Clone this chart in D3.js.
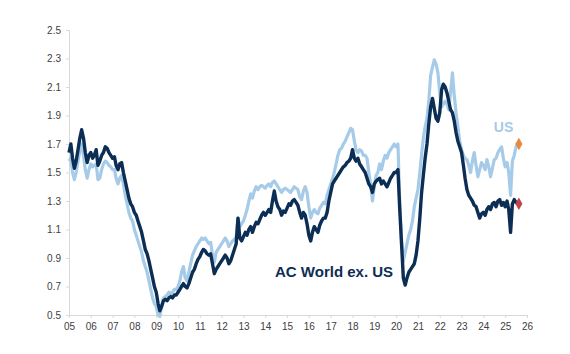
<!DOCTYPE html>
<html>
<head>
<meta charset="utf-8">
<script src="https://cdn.jsdelivr.net/npm/d3@7"></script>
<style>
  html, body { margin: 0; padding: 0; background: #ffffff; }
  svg { display: block; }
</style>
</head>
<body>
<svg id="chart" width="570" height="354"></svg>
<script>
// ---------- DATA (monthly, Jan 2005 .. Aug 2025) ----------
const startMonth = "2005-01";
const yTickValues = [0.5, 0.7, 0.9, 1.1, 1.3, 1.5, 1.7, 1.9, 2.1, 2.3, 2.5];
const xTickYears = [2005,2006,2007,2008,2009,2010,2011,2012,2013,2014,2015,2016,2017,2018,2019,2020,2021,2022,2023,2024,2025,2026];
const seriesNames = ["US", "AC World ex. US"];

const usValues = [
  1.58,1.60,1.50,1.45,1.50,1.58,1.65,1.70,1.62,1.52,1.46,1.52, // 2005
  1.56,1.54,1.55,1.56,1.45,1.46,1.52,1.56,1.58,1.57,1.55,1.54, // 2006
  1.52,1.52,1.46,1.42,1.46,1.48,1.42,1.34,1.28,1.22,1.18,1.16, // 2007
  1.10,1.06,1.02,0.98,0.94,0.88,0.84,0.80,0.74,0.68,0.62,0.58, // 2008
  0.56,0.50,0.49,0.56,0.62,0.63,0.64,0.66,0.65,0.66,0.68,0.68, // 2009
  0.70,0.74,0.80,0.84,0.76,0.74,0.80,0.86,0.92,0.95,0.98,1.00, // 2010
  1.02,1.04,1.03,1.04,1.02,1.00,1.01,0.92,0.87,0.94,0.96,0.98, // 2011
  1.00,1.02,1.04,1.02,0.98,1.00,1.02,1.03,1.05,1.18,1.12,1.14, // 2012
  1.16,1.20,1.24,1.30,1.35,1.32,1.37,1.40,1.38,1.40,1.41,1.40, // 2013
  1.39,1.41,1.42,1.40,1.43,1.44,1.42,1.40,1.38,1.36,1.38,1.39, // 2014
  1.38,1.37,1.36,1.38,1.40,1.39,1.38,1.33,1.31,1.37,1.40,1.36, // 2015
  1.26,1.18,1.22,1.24,1.22,1.21,1.25,1.27,1.29,1.28,1.34,1.38, // 2016
  1.42,1.46,1.50,1.56,1.62,1.66,1.67,1.70,1.72,1.75,1.78,1.81, // 2017
  1.80,1.72,1.66,1.64,1.66,1.65,1.62,1.62,1.60,1.50,1.42,1.30, // 2018
  1.40,1.48,1.50,1.56,1.52,1.58,1.62,1.60,1.64,1.66,1.68,1.70, // 2019
  1.68,1.70,1.30,1.02,0.88,0.94,1.00,1.06,1.10,1.16,1.26,1.32, // 2020
  1.38,1.50,1.62,1.74,1.82,1.88,2.00,2.18,2.24,2.29,2.26,2.20, // 2021
  2.06,1.96,1.98,2.00,1.98,1.94,2.06,2.20,2.04,1.92,1.82,1.72, // 2022
  1.66,1.62,1.60,1.59,1.55,1.50,1.58,1.64,1.55,1.47,1.52,1.57, // 2023
  1.55,1.52,1.59,1.54,1.47,1.53,1.59,1.60,1.64,1.66,1.68,1.60, // 2024
  1.54,1.57,1.50,1.34,1.58,1.62,1.68,1.70                      // 2025
];

const acwiValues = [
  1.64,1.70,1.60,1.53,1.58,1.66,1.74,1.80,1.74,1.64,1.57,1.62, // 2005
  1.64,1.60,1.62,1.66,1.55,1.58,1.62,1.64,1.68,1.67,1.64,1.62, // 2006
  1.60,1.61,1.55,1.52,1.56,1.57,1.50,1.44,1.38,1.32,1.28,1.26, // 2007
  1.22,1.20,1.16,1.12,1.08,1.02,0.96,0.93,0.88,0.82,0.76,0.70, // 2008
  0.66,0.58,0.53,0.56,0.60,0.61,0.60,0.62,0.63,0.62,0.64,0.64, // 2009
  0.66,0.68,0.70,0.72,0.70,0.69,0.72,0.76,0.80,0.82,0.86,0.89, // 2010
  0.91,0.94,0.96,0.95,0.93,0.92,0.93,0.86,0.79,0.82,0.84,0.86, // 2011
  0.88,0.90,0.92,0.90,0.86,0.88,0.92,0.96,1.00,1.18,1.04,1.02, // 2012
  1.05,1.08,1.06,1.10,1.12,1.08,1.12,1.15,1.14,1.17,1.20,1.22, // 2013
  1.20,1.22,1.24,1.22,1.30,1.37,1.30,1.26,1.24,1.20,1.23,1.22, // 2014
  1.25,1.28,1.27,1.30,1.31,1.29,1.27,1.22,1.18,1.22,1.20,1.14, // 2015
  1.06,1.02,1.08,1.12,1.10,1.08,1.13,1.16,1.18,1.18,1.22,1.30, // 2016
  1.36,1.42,1.44,1.46,1.48,1.50,1.52,1.54,1.55,1.57,1.58,1.60, // 2017
  1.66,1.60,1.58,1.60,1.56,1.54,1.52,1.50,1.46,1.42,1.40,1.36, // 2018
  1.42,1.44,1.45,1.46,1.42,1.44,1.42,1.40,1.43,1.46,1.48,1.50, // 2019
  1.50,1.52,1.25,1.00,0.76,0.71,0.76,0.80,0.82,0.84,0.86,0.92, // 2020
  1.02,1.18,1.35,1.48,1.60,1.70,1.84,1.96,2.02,1.95,1.88,1.86, // 2021
  1.92,2.08,2.12,2.10,2.06,2.00,1.94,1.92,1.86,1.78,1.72,1.68, // 2022
  1.64,1.55,1.46,1.38,1.34,1.32,1.30,1.27,1.26,1.22,1.18,1.21, // 2023
  1.22,1.20,1.24,1.26,1.24,1.28,1.29,1.26,1.30,1.31,1.27,1.29, // 2024
  1.26,1.30,1.24,1.08,1.28,1.31,1.29,1.28                      // 2025
];

// ---------- STYLE ----------
const colUS = "#a6cbe8";
const colACWI = "#0c2e55";
const colAxis = "#d9d9d9";
const colText = "#404040";

const svg = d3.select("#chart");
const margin = { left: 69, right: 43, top: 30, bottom: 39 };
const W = 570, H = 354;

const parseMonth = d3.timeParse("%Y-%m");
const start = parseMonth(startMonth);
const dates = usValues.map((_, i) => d3.timeMonth.offset(start, i));

const x = d3.scaleTime()
  .domain([new Date(xTickYears[0], 0, 1), new Date(xTickYears[xTickYears.length - 1], 0, 1)])
  .range([margin.left, W - margin.right]);
const y = d3.scaleLinear()
  .domain([0.5, 2.5])
  .range([H - margin.bottom, margin.top]);

// Y axis
const yAxis = d3.axisLeft(y).tickValues(yTickValues).tickFormat(d3.format(".1f")).tickSize(3).tickPadding(5);
const gy = svg.append("g").attr("transform", `translate(${margin.left},0)`).call(yAxis);
gy.select(".domain").attr("stroke", colAxis);
gy.selectAll(".tick line").attr("stroke", colAxis);
gy.selectAll("text").attr("fill", colText).style("font-family", "Arial, 'Liberation Sans', sans-serif").style("font-size", "10px");

// X axis
const xAxis = d3.axisBottom(x)
  .tickValues(xTickYears.map(yr => new Date(yr, 0, 1)))
  .tickFormat(d3.timeFormat("%y")).tickSize(3).tickPadding(5);
const gx = svg.append("g").attr("transform", `translate(0,${H - margin.bottom})`).call(xAxis);
gx.select(".domain").attr("stroke", colAxis);
gx.selectAll(".tick line").attr("stroke", colAxis);
gx.selectAll("text").attr("fill", colText).style("font-family", "Arial, 'Liberation Sans', sans-serif").style("font-size", "10px");

// Lines
const line = d3.line().x((d, i) => x(dates[i])).y(d => y(d)).curve(d3.curveLinear);

svg.append("path").datum(usValues)
  .attr("fill", "none").attr("stroke", colUS).attr("stroke-width", 3.2)
  .attr("stroke-linejoin", "round").attr("d", line);

svg.append("path").datum(acwiValues)
  .attr("fill", "none").attr("stroke", colACWI).attr("stroke-width", 3.4)
  .attr("stroke-linejoin", "round").attr("d", line);

// End markers
const lastI = usValues.length - 1;
const diamond = d3.symbol().type(d3.symbolDiamond).size(45);
svg.append("path").attr("d", diamond)
  .attr("transform", `translate(${x(dates[lastI]) + 1},${y(usValues[lastI])})`)
  .attr("fill", "#e8883a");
svg.append("path").attr("d", diamond)
  .attr("transform", `translate(${x(dates[acwiValues.length - 1]) + 1},${y(acwiValues[acwiValues.length - 1])})`)
  .attr("fill", "#c0464c");

// Series labels
svg.append("text").attr("x", 503.5).attr("y", 132).attr("text-anchor", "middle")
  .attr("fill", colUS).style("font-family", "Arial, 'Liberation Sans', sans-serif")
  .style("font-size", "14px").style("font-weight", "bold").text(seriesNames[0]);
svg.append("text").attr("x", 275).attr("y", 277).attr("text-anchor", "start")
  .attr("fill", colACWI).style("font-family", "Arial, 'Liberation Sans', sans-serif")
  .style("font-size", "15px").style("font-weight", "bold").text(seriesNames[1]);
</script>
</body>
</html>
